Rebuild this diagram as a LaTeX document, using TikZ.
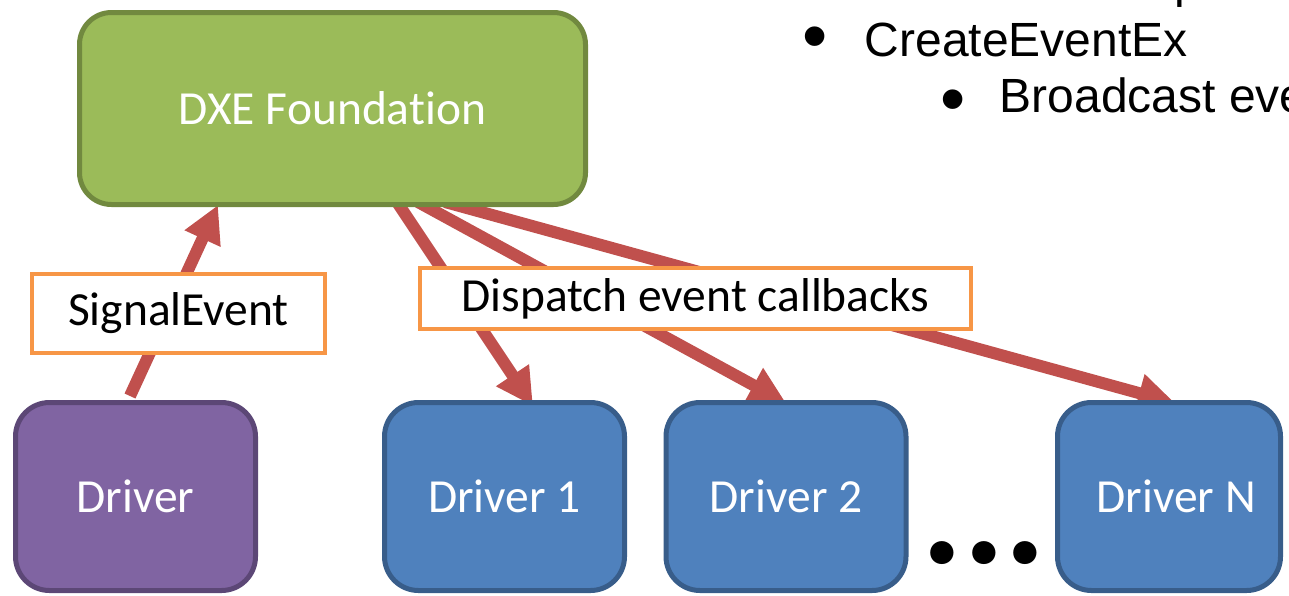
\documentclass[tikz,border=0pt]{standalone}
\usepackage{fontspec}
\setmainfont{Carlito}[Ligatures={NoCommon}]
\newfontfamily\arialf{Liberation Sans}
\usetikzlibrary{arrows.meta,calc}
\pgfdeclarelayer{bg}
\pgfsetlayers{bg,main}
\definecolor{gfill}{HTML}{9BBB59}
\definecolor{gline}{HTML}{71893F}
\definecolor{pfill}{HTML}{8064A2}
\definecolor{pline}{HTML}{5C4776}
\definecolor{bfill}{HTML}{4F81BD}
\definecolor{bline}{HTML}{385D8A}
\definecolor{arrred}{HTML}{C0504D}
\definecolor{orng}{HTML}{F79646}
\tikzset{
  boxtxt/.style={font=\fontsize{47.5}{56}\selectfont, inner sep=0pt},
  rbox/.style={boxtxt, draw, line width=5pt, rounded corners=34pt, text=white,
    minimum height=188pt},
  dxebox/.style={rbox, fill=gfill, draw=gline, minimum width=506pt, minimum height=192pt, rounded corners=32pt},
  pbox/.style={rbox, fill=pfill, draw=pline, minimum width=240pt},
  bbox/.style={rbox, fill=bfill, draw=bline, minimum width=240pt},
  lbl/.style={boxtxt, draw=orng, line width=4pt, fill=white, text=black},
  arr/.style={draw=arrred, line width=12pt, -{Triangle[length=37pt,width=37pt]}},
  bul/.style={font=\arialf\fontsize{48}{56}\selectfont, inner sep=0pt, anchor=base west},
  dotf/.style={font=\arialf\fontsize{72}{80}\selectfont, inner sep=0pt, anchor=base},
}
\begin{document}
\begin{tikzpicture}[x=1pt,y=-1pt]
\useasboundingbox (0,0) rectangle (1289,595);
\clip (0,0) rectangle (1289,595);

\node[dxebox] (dxe) at (332.5,108.5) {DXE Foundation};
\node[pbox] (drv) at (135.5,496.5) {Driver};
\node[bbox] (d1) at (504.5,496.5) {Driver 1};
\node[bbox] (d2) at (786,496.5) {Driver 2};
\node[bbox, minimum width=223pt] (dN) at (1169,496.5) {\hspace*{14pt}Driver N};

\begin{pgfonlayer}{bg}
\draw[arr] ([xshift=-5.5pt,yshift=4pt]drv.north) -- ([xshift=-114.5pt,yshift=2pt]dxe.south);
\draw[arr] ([xshift=64.5pt,yshift=5pt]dxe.south) -- ([xshift=28.5pt,yshift=-6pt]d1.north);
\draw[arr] ([xshift=85.5pt,yshift=5pt]dxe.south) -- ([yshift=-3pt]d2.north);
\draw[arr] ([xshift=112.5pt,yshift=5pt]dxe.south) -- ([xshift=6pt,yshift=-3pt]dN.north);
\end{pgfonlayer}

\node[lbl, minimum width=293pt, minimum height=79pt] (sig) at (178.5,313.5) {SignalEvent};
\node[lbl, minimum width=551pt, minimum height=61pt] (disp) at (695.5,298.5) {Dispatch event callbacks};

\node[font=\bfseries\fontsize{156}{160}\selectfont, inner sep=0pt, anchor=base] (dots) at (984,563) {...};

\node[dotf] (b1) at (815,60) {•};
\node[bul] (t1) at (864.5,56) {CreateEventEx};
\node[dotf] (b2) at (953,123) {•};
\node[bul] (t2) at (999.5,112) {Broadcast eve};
\node[bul] (t0) at (1174,-3) {p};
\end{tikzpicture}
\end{document}
